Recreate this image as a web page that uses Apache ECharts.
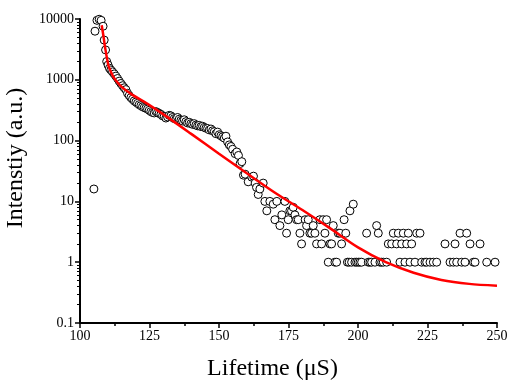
<!DOCTYPE html>
<html>
<head>
<meta charset="utf-8">
<script src="https://cdn.jsdelivr.net/npm/echarts@6/dist/echarts.min.js"></script>
<style>
  html, body { margin: 0; padding: 0; background: #fff; }
  #chart { width: 510px; height: 385px; }
</style>
</head>
<body>
<div id="chart"></div>
<script>
// measured decay: lifetime (µS) and intensity (a.u.)
const lifetime = [
  105.0, 105.4, 106.1, 106.9, 107.6, 108.3, 108.7, 109.2, 109.6, 110.1,
  110.6, 111.1, 111.7, 112.3, 112.9, 113.5, 114.1, 114.7, 115.3, 115.9,
  116.5, 117.1, 117.7, 118.3, 118.9, 119.5, 120.1, 120.7, 121.3, 121.9,
  122.5, 123.1, 123.7, 124.3, 124.9, 125.5, 126.1, 126.7, 127.3, 127.9,
  128.5, 129.1, 129.7, 130.3, 130.9, 131.5, 132.1, 132.7, 133.3, 133.9,
  134.5, 135.1, 135.7, 136.3, 136.9, 137.5, 138.1, 138.7, 139.3, 139.9,
  140.5, 141.1, 141.7, 142.3, 142.9, 143.5, 144.1, 144.7, 145.3, 145.9,
  146.5, 147.1, 147.7, 148.3, 148.9, 149.5, 150.1, 150.7, 151.3, 151.9,
  152.5, 153.1, 153.7, 154.3, 154.9, 155.8, 156.4, 157.0, 157.6, 158.2,
  158.8, 159.4, 160.5, 161.8, 162.4, 163.0, 163.5, 164.1, 164.7, 165.9,
  166.5, 167.2, 168.3, 169.5, 170.1, 170.8, 171.9, 172.6, 173.7, 174.3,
  174.9, 175.5, 176.1, 176.7, 177.3, 177.9, 178.5, 179.1, 179.7, 181.0,
  181.5, 182.1, 182.7, 183.3, 183.9, 184.5, 185.1, 186.3, 186.9, 187.5,
  188.1, 188.7, 189.3, 189.9, 190.5, 191.1, 191.7, 192.3, 192.9, 193.5,
  194.1, 195.0, 195.6, 196.2, 196.8, 197.1, 197.7, 198.3, 198.9, 199.5,
  200.1, 200.7, 201.3, 203.1, 203.7, 204.3, 204.9, 206.1, 206.7, 207.3,
  207.9, 208.5, 209.1, 210.3, 210.9, 212.1, 212.7, 213.9, 214.5, 215.1,
  215.7, 216.3, 216.9, 217.5, 218.1, 218.7, 219.3, 220.5, 221.1, 222.3,
  222.9, 224.1, 224.7, 225.9, 227.1, 228.3, 231.3, 233.1, 234.3, 234.9,
  235.5, 236.7, 237.3, 238.5, 239.1, 240.3, 241.5, 242.1, 243.9, 246.3,
  249.3
];
const intensity = [
  16, 6300, 9500, 9900, 9500, 7600, 4500, 3100, 2000, 1750,
  1550, 1450, 1350, 1250, 1150, 1050, 950, 870, 800, 740,
  690, 600, 550, 510, 480, 450, 430, 410, 390, 375,
  360, 350, 340, 330, 315, 300, 290, 285, 300, 290,
  280, 270, 255, 250, 235, 245, 260, 255, 240, 230,
  225, 240, 225, 215, 210, 220, 205, 195, 200, 190,
  185, 190, 180, 175, 178, 170, 172, 165, 160, 158,
  150, 155, 145, 140, 130, 138, 125, 120, 115, 110,
  118, 95, 85, 80, 72, 61, 65, 57, 42, 45,
  27, 28, 21, 25, 26, 20, 17, 13, 16, 20,
  10, 7, 10, 9, 5, 10, 4, 6, 10, 3,
  5, 7, 7, 8, 6, 5, 5, 3, 2, 5,
  4, 5, 3, 3, 4, 3, 2, 5, 2, 5,
  3, 5, 1, 2, 2, 4, 1, 1, 3, 3,
  2, 5, 3, 1, 1, 7, 1, 9, 1, 1,
  1, 1, 1, 3, 1, 1, 1, 1, 4, 3,
  1, 1, 1, 1, 2, 2, 3, 2, 3, 1,
  2, 3, 1, 2, 3, 1, 2, 1, 3, 3,
  1, 1, 1, 1, 1, 1, 2, 1, 1, 2,
  1, 3, 1, 1, 3, 2, 1, 1, 2, 1,
  1
];

// fitted curve
const fitX = [107.8, 108.5, 109, 110.2, 111, 112, 113.5, 115, 117, 119, 124, 130, 140, 150, 160, 170, 180, 190, 200, 210, 220, 230, 240, 250];
const fitY = [7900, 5000, 3470, 1740, 1400, 1120, 900, 760, 650, 560, 410, 270, 129, 61, 29, 14, 7.2, 3.6, 1.75, 1.0, 0.67, 0.51, 0.44, 0.41];

// y tick labels and log minor ticks
const yTicks = [0.1, 1, 10, 100, 1000, 10000];
const yMinor = [];
yTicks.slice(0, -1).forEach((d) => {
  for (let k = 2; k <= 9; k++) yMinor.push(+(d * k).toPrecision(3));
});

const font = 'Liberation Serif';
const chart = echarts.init(document.getElementById('chart'));

const scatterData = lifetime.map((x, i) => [x, intensity[i]]);
const fitData = fitX.map((x, i) => [x, fitY[i]]);

chart.setOption({
  animation: false,
  backgroundColor: '#fff',
  grid: { left: 80, right: 13, top: 19, bottom: 62, containLabel: false, outerBoundsMode: 'none' },
  xAxis: {
    type: 'value',
    min: 100,
    max: 250,
    interval: 25,
    name: 'Lifetime (μS)',
    nameLocation: 'middle',
    nameGap: 34,
    nameTextStyle: { fontFamily: font, fontSize: 24, color: '#000', padding: [0, 32, 0, 0] },
    axisLine: { lineStyle: { color: '#000', width: 2 } },
    axisTick: { length: 5, lineStyle: { color: '#000', width: 1.5 } },
    minorTick: { show: true, splitNumber: 2, length: 3, lineStyle: { color: '#000', width: 1.5 } },
    axisLabel: { fontFamily: font, fontSize: 14, color: '#000', margin: 6 },
    splitLine: { show: false }
  },
  yAxis: [
    {
      type: 'log',
      logBase: 10,
      min: 0.1,
      max: 10000,
      name: 'Intenstiy (a.u.)',
      nameLocation: 'middle',
      nameGap: 43,
      nameTextStyle: { fontFamily: font, fontSize: 24, color: '#000', padding: [0, 0, 0, 26] },
      axisLine: { show: true, lineStyle: { color: '#000', width: 2 } },
      axisTick: { length: 5, lineStyle: { color: '#000', width: 1.5 } },
      axisLabel: {
        fontFamily: font, fontSize: 14, color: '#000', margin: 6,
        formatter: (v) => String(+v.toPrecision(3))
      },
      splitLine: { show: false }
    },
    {
      type: 'log',
      logBase: 10,
      min: 0.1,
      max: 10000,
      position: 'left',
      axisLine: { show: false },
      axisLabel: { show: false },
      axisTick: { show: true, length: 3, customValues: yMinor, lineStyle: { color: '#000', width: 1 } },
      splitLine: { show: false }
    }
  ],
  series: [
    {
      type: 'scatter',
      data: scatterData,
      symbol: 'circle',
      symbolSize: 8,
      itemStyle: { color: '#fff', borderColor: '#000', borderWidth: 1, opacity: 1 },
      z: 2
    },
    {
      type: 'line',
      data: fitData,
      smooth: 0.3,
      showSymbol: false,
      lineStyle: { color: '#ff0000', width: 2.5 },
      z: 3
    }
  ]
});
</script>
</body>
</html>
